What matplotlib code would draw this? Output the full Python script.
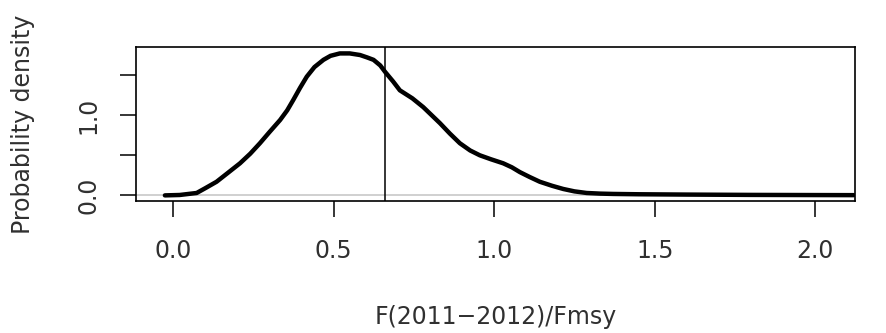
import numpy as np
import matplotlib
matplotlib.use("Agg")
import matplotlib.pyplot as plt

plt.rcParams["font.family"] = ["DejaVu Sans"]

# density curve
dens_x = [-0.026, 0.02, 0.073, 0.10, 0.135, 0.17, 0.208, 0.24, 0.27, 0.30, 0.333, 0.355,
          0.374, 0.395, 0.416, 0.44, 0.468, 0.49, 0.519, 0.55, 0.582, 0.604, 0.624, 0.645,
          0.66, 0.685, 0.706, 0.745, 0.779, 0.805, 0.831, 0.862, 0.893, 0.925, 0.955,
          0.99, 1.028, 1.055, 1.08, 1.11, 1.142, 1.18, 1.215, 1.25, 1.288, 1.33, 1.371,
          1.45, 1.6, 1.8, 2.0, 2.12]
dens_y = [0.0, 0.005, 0.03, 0.09, 0.17, 0.28, 0.40, 0.52, 0.65, 0.79, 0.94, 1.06,
          1.19, 1.34, 1.48, 1.60, 1.69, 1.74, 1.77, 1.77, 1.75, 1.72, 1.69, 1.62,
          1.54, 1.42, 1.31, 1.21, 1.10, 1.00, 0.90, 0.77, 0.65, 0.56, 0.50,
          0.45, 0.40, 0.35, 0.29, 0.23, 0.17, 0.12, 0.08, 0.05, 0.03, 0.022, 0.018,
          0.014, 0.01, 0.006, 0.004, 0.003]

fmsy_line = 0.66
x_ticks = [0.0, 0.5, 1.0, 1.5, 2.0]
x_labels = ["0.0", "0.5", "1.0", "1.5", "2.0"]
y_ticks = [0.0, 0.5, 1.0, 1.5]
y_labels = ["0.0", "", "1.0", ""]

txt_col = "#303030"

fig = plt.figure(figsize=(8.87, 3.33), dpi=100)
ax = fig.add_axes([136 / 887, 1 - 201 / 333, (855 - 136) / 887, (201 - 47) / 333])

ax.axhline(0, color="#c8c8c8", lw=1.2, zorder=1)
ax.plot(dens_x, dens_y, color="black", lw=3.2, solid_capstyle="round", zorder=3)
ax.axvline(fmsy_line, color="black", lw=1.1, zorder=2)

ax.set_xlim(-0.116, 2.124)
ax.set_ylim(-0.07, 1.85)

ax.set_xticks(x_ticks)
ax.set_xticklabels(x_labels)
ax.set_yticks(y_ticks)
ax.set_yticklabels(y_labels, rotation=90, va="center")

ax.tick_params(axis="both", direction="out", length=11.5, width=1.1, colors="black",
               labelsize=17, labelcolor=txt_col)
ax.tick_params(axis="x", pad=16)
ax.tick_params(axis="y", pad=14)
for s in ax.spines.values():
    s.set_linewidth(1.2)

ax.set_xlabel("F(2011\u22122012)/Fmsy", fontsize=17, labelpad=30, color=txt_col)
ax.set_ylabel("Probability density", fontsize=17, labelpad=30, color=txt_col)

fig.savefig("out.png", dpi=100)
